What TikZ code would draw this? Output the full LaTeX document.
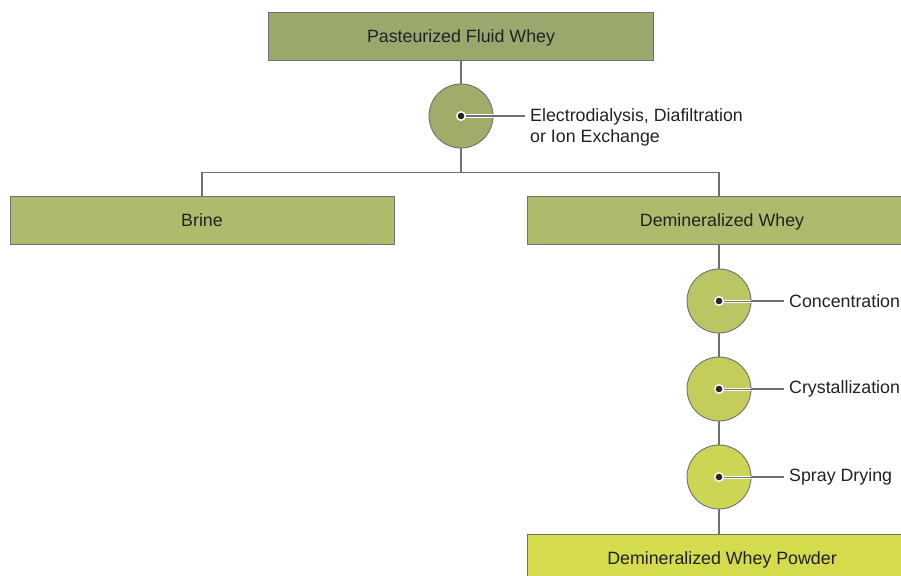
\documentclass[tikz,border=0pt]{standalone}
\usepackage{fontspec}
\setmainfont{Liberation Sans}
\begin{document}
\definecolor{linegray}{HTML}{707070}
\definecolor{txt}{HTML}{222222}
\definecolor{boxA}{HTML}{9AA86E}
\definecolor{boxB}{HTML}{AFBB6C}
\definecolor{boxC}{HTML}{D4DB4C}
\definecolor{circA}{HTML}{A0AD6A}
\definecolor{circB}{HTML}{BAC563}
\definecolor{circC}{HTML}{C4CD5C}
\definecolor{circD}{HTML}{CDD554}
\begin{tikzpicture}[x=1pt,y=-1pt,
  font=\fontsize{17.8}{21}\selectfont, text=txt,
  stagebox/.style={draw=linegray, line width=0.9pt, minimum width=384pt, minimum height=48pt, inner sep=0pt, text depth=0pt, text height=13pt},
  stepdisc/.style={circle, draw=linegray, line width=0.9pt, minimum size=64pt, inner sep=0pt},
  link/.style={draw=linegray, line width=1.1pt},
  labelstroke/.style={line width=1pt, draw=linegray, preaction={draw=white, line width=3pt}},
  steplabel/.style={anchor=west, align=left, inner sep=0pt}]
\useasboundingbox (0,0) rectangle (901,575);
\clip (0,0) rectangle (901,575);

% product boxes
\node[stagebox, fill=boxA, minimum width=385pt] (whey) at (461,36) {Pasteurized Fluid Whey};
\node[stagebox, fill=boxB] (brine) at (202,220) {Brine};
\node[stagebox, fill=boxB, minimum width=390pt] (demin) at (722,220) {Demineralized Whey};
\node[stagebox, fill=boxC, minimum width=390pt] (powder) at (722,558) {Demineralized Whey Powder};

% process discs
\node[stepdisc, fill=circA] (ed) at (461,116) {};
\node[stepdisc, fill=circB] (conc) at (719,301) {};
\node[stepdisc, fill=circC] (cryst) at (719,389) {};
\node[stepdisc, fill=circD] (spray) at (719,477) {};

% flow lines
\coordinate (split) at (461,172.5);
\draw[link] (whey.south) -- (ed.north);
\draw[link] (ed.south) -- (split);
\draw[link] (brine.north) |- (split) -| (conc |- demin.north);
\draw[link] (conc |- demin.south) -- (conc.north);
\draw[link] (conc.south) -- (cryst.north);
\draw[link] (cryst.south) -- (spray.north);
\draw[link] (spray.south) -- (spray |- powder.north);

% process labels
\coordinate (edEnd) at (525,116);
\coordinate (concEnd) at (784,301);
\coordinate (crystEnd) at (784,389);
\coordinate (sprayEnd) at (784,477);
\node[steplabel, anchor=north west] (edLab) at (530,108.5) {Electrodialysis, Diafiltration\\or Ion Exchange};
\node[steplabel] (concLab) at (789,301) {Concentration};
\node[steplabel] (crystLab) at (789,389) {Crystallization};
\node[steplabel] (sprayLab) at (789,477) {Spray Drying};
\foreach \c/\e in {ed/edEnd, conc/concEnd, cryst/crystEnd, spray/sprayEnd}{
  \draw[labelstroke] (\c.center) -- (\c.east);
  \draw[link] (\c.east) -- (\e);
  \fill[white] (\c.center) circle (5pt);
  \fill[black!85] (\c.center) circle (3.3pt);
}
\end{tikzpicture}
\end{document}
